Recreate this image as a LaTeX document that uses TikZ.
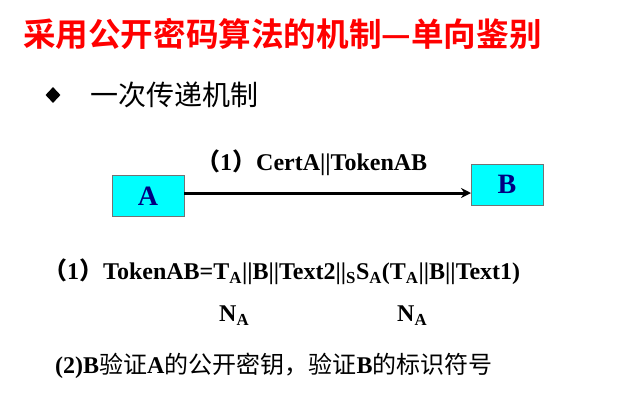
\documentclass[tikz,border=0pt]{standalone}
\usepackage{fontspec}
\setmainfont{Liberation Serif}
\newfontfamily\cjk{Noto Sans CJK SC}
\newfontfamily\cjkbold{Noto Sans CJK SC Bold}
\usetikzlibrary{arrows.meta,shapes.geometric}
\definecolor{boxcyan}{HTML}{00FFFF}
\definecolor{labelnavy}{HTML}{000080}
\tikzset{
  party/.style={draw=black!55, line width=1pt, fill=boxcyan, minimum width=72pt,
    minimum height=41pt, inner sep=0pt, font=\fontsize{28}{28}\selectfont\bfseries,
    text=labelnavy},
  txt/.style={anchor=west, inner sep=0pt, font=\fontsize{24}{24}\selectfont\bfseries},
  msg/.style={draw=black, line width=3pt, -{Stealth[length=10pt,width=10pt]}}
}
\newcommand{\sub}[1]{\textsubscript{#1}}
\newcommand{\fwl}{{\cjkbold （}}
\newcommand{\fwr}{{\cjkbold ）}}
\begin{document}
\begin{tikzpicture}[x=1pt,y=-1pt]
\useasboundingbox (0,0) rectangle (630,400);
\fill[white] (0,0) rectangle (630,400);

% heading
\node[anchor=west, inner sep=0pt, text=red, font=\fontsize{32.6}{32.6}\selectfont\cjkbold] (title) at (23,34)
  {采用公开密码算法的机制—单向鉴别};

% bullet point
\node[diamond, fill=black, inner sep=0pt, minimum width=15pt, minimum height=16pt] (dot) at (53,95) {};
\node[anchor=west, inner sep=0pt, font=\fontsize{28}{28}\selectfont\cjk] (sub) at (90,95) {一次传递机制};

% the two parties and the single message
\node[party] (A) at (148,196) {A};
\node[party] (B) at (507,184.5) {B};
\coordinate (Aout) at (184,193);
\coordinate (Bin) at (471,193);
\draw[msg] (Aout) -- (Bin);
\node[txt] (m1) at (196,163) {\fwl1\fwr CertA||TokenAB};

% token definition
\node[txt] (tok) at (43,272) {\fwl1\fwr TokenAB=T\sub{A}||B||Text2||\sub{S}S\sub{A}(T\sub{A}||B||Text1)};
\node[txt] (na1) at (219,316) {N\sub{A}};
\node[txt] (na2) at (397,316) {N\sub{A}};

% verification step
\node[txt, font=\fontsize{24}{24}\selectfont] (step2) at (55,366)
  {\textbf{(2)B}{\cjk 验证}\textbf{A}{\cjk 的公开密钥，验证}\textbf{B}{\cjk 的标识符号}};
\end{tikzpicture}
\end{document}
